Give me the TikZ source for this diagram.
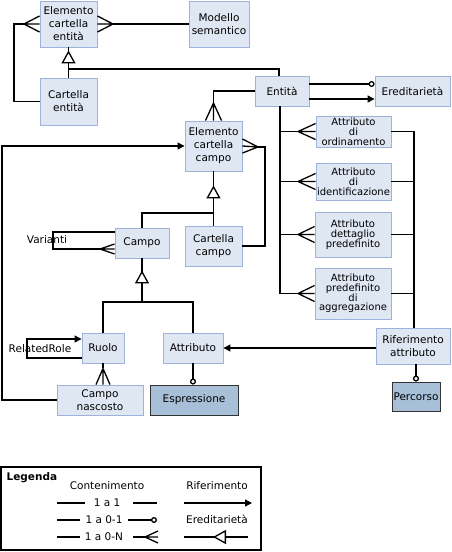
\documentclass[tikz,border=0pt]{standalone}
\usepackage{fontspec}
\setmainfont{DejaVu Sans}
\usepackage{xcolor}
\usepackage{tikz}
\usetikzlibrary{arrows.meta}
\definecolor{boxfill}{HTML}{DFE7F3}
\definecolor{boxline}{HTML}{9DB3DB}
\definecolor{darkfill}{HTML}{A7C0D8}
\definecolor{darkline}{HTML}{333333}
\tikzset{
  box/.style={draw=boxline, fill=boxfill, align=center, inner sep=1pt, line width=0.9pt,
    font=\fontsize{10.5}{13}\selectfont},
  attrbox/.style={box, font=\fontsize{10}{9.8}\selectfont},
  darkbox/.style={draw=darkline, fill=darkfill, align=center, inner sep=1pt, line width=0.9pt,
    font=\fontsize{10.5}{13}\selectfont},
  inh/.style={-{Triangle[width=14pt,length=13pt,fill=white]}},
  refarr/.style={-{Triangle[width=7pt,length=7pt]}},
  zeroone/.style={-{Circle[length=6pt,fill=white]}},
  lbl/.style={font=\fontsize{10.5}{12}\selectfont, inner sep=0pt}
}
\begin{document}
\begin{tikzpicture}[x=1pt, y=-1pt, line width=1.3pt]
  \useasboundingbox (0,0) rectangle (452,552);

  % Entity folders
  \node[box, minimum width=57pt, minimum height=46pt] (ece) at (68.5,24) {Elemento\\cartella\\entità};
  \node[box, minimum width=60pt, minimum height=46pt] (ms) at (219,24) {Modello\\semantico};
  \node[box, minimum width=57pt, minimum height=47pt] (ce) at (68.5,101.5) {Cartella\\entità};
  \node[box, minimum width=54pt, minimum height=30pt] (ent) at (282,91) {Entità};
  \node[box, minimum width=75pt, minimum height=30pt] (ered) at (412.5,91) {Ereditarietà};

  % Field folders
  \node[box, minimum width=57pt, minimum height=50pt] (ecc) at (213.5,146) {Elemento\\cartella\\campo};
  \node[box, minimum width=57pt, minimum height=40pt] (cc) at (213.5,246) {Cartella\\campo};
  \node[box, minimum width=54pt, minimum height=30pt] (campo) at (142,243) {Campo};
  \node[box, minimum width=42pt, minimum height=30pt] (ruolo) at (103,348) {Ruolo};
  \node[box, minimum width=60pt, minimum height=30pt] (attr) at (193,348) {Attributo};
  \node[box, minimum width=86pt, minimum height=30pt] (cn) at (100,400) {Campo\\nascosto};
  \node[darkbox, minimum width=88pt, minimum height=30pt] (espr) at (194,400) {Espressione};

  % Attributes of the entity
  \node[attrbox, minimum width=75pt, minimum height=31pt] (aord) at (353.5,131.5) {Attributo\\di\\ordinamento};
  \node[attrbox, minimum width=75pt, minimum height=37pt] (aid) at (353.5,181.5) {Attributo\\di\\identificazione};
  \node[attrbox, minimum width=76pt, minimum height=45pt] (adp) at (353,234.5) {Attributo\\dettaglio\\predefinito};
  \node[attrbox, minimum width=76pt, minimum height=51pt] (apa) at (353,293.5) {Attributo\\predefinito\\di\\aggregazione};
  \node[box, minimum width=74pt, minimum height=36pt] (ra) at (413,346) {Riferimento\\attributo};
  \node[darkbox, minimum width=48pt, minimum height=29pt] (perc) at (416,396.5) {Percorso};

  % Elemento cartella entita
  \coordinate (ecl) at (24,24);
  \coordinate (ecr) at (113,24);
  \draw (ecl) -- ([yshift=8pt]ece.west) (ecl) -- (ece.west) (ecl) -- ([yshift=-8pt]ece.west);
  \draw (ecr) -- ([yshift=8pt]ece.east) (ecr) -- (ece.east) (ecr) -- ([yshift=-8pt]ece.east);
  \draw (ecr) -- (ms.west);
  \draw (ce.west) -- (14,101.5) |- (ecl);
  \coordinate (j1) at (68.5,69);
  \draw (ce.north) -- (j1) -- (ece.south);
  \draw[inh] (j1) -- ([yshift=-3pt]ece.south);
  \draw (j1) -| ([xshift=-3pt]ent.north);

  % Entita
  \draw[zeroone] ([yshift=7pt]ent.east) -- ([yshift=7pt]ered.west);
  \draw[refarr] ([yshift=-8pt]ent.east) -- ([yshift=-8pt]ered.west);
  \coordinate (ect) at (213.5,103);
  \draw (ent.west) -| (ect);
  \draw (ect) -- ([xshift=-8pt]ecc.north) (ect) -- (ecc.north) (ect) -- ([xshift=8pt]ecc.north);

  % Elemento cartella campo
  \coordinate (ecf) at (258,147);
  \draw (ecf) -- ([yshift=7pt]ecc.east) (ecf) -- (ecc.east) (ecf) -- ([yshift=-7pt]ecc.east);
  \draw (ecf) -- (265,147) |- (cc.east);
  \coordinate (j2) at (213.5,213);
  \draw (cc.north) -- (j2) -- (ecc.south);
  \draw[inh] (j2) -- ([yshift=-14pt]ecc.south);
  \draw (j2) -| (campo.north);

  % Campo
  \coordinate (cv) at (100,249);
  \draw ([yshift=11pt]campo.west) -- (53,232) |- (cv);
  \draw (cv) -- ([yshift=-1pt]campo.west) (cv) -- ([yshift=-6pt]campo.west) (cv) -- ([yshift=-11pt]campo.west);
  \node[lbl] (var) at (47,240) {Varianti};
  \coordinate (j3) at (142,302);
  \draw (j3) -- (campo.south);
  \draw[inh] (j3) -- ([yshift=-12pt]campo.south);
  \draw (ruolo.north) |- (j3) -| (attr.north);

  % Ruolo
  \draw[refarr] ([yshift=-10pt]ruolo.west) -- (27,358) |- ([yshift=9pt]ruolo.west);
  \node[lbl] (rr) at (40,349) {RelatedRole};
  \draw (ruolo.south) -- ++(0,5) coordinate (rt);
  \draw (rt) -- (rt |- cn.north) (rt) -- ([xshift=-7pt]rt |- cn.north) (rt) -- ([xshift=7pt]rt |- cn.north);
  \coordinate (lft) at (2,0);
  \draw[refarr] (cn.west) -- (cn.west -| lft) |- (ecc.west);

  % Attributo
  \draw[zeroone] (attr.south) -- (attr.south |- espr.north);
  \draw[refarr] (ra.west |- attr.east) -- (attr.east);

  % Attributi dell'entita
  \coordinate (ev) at ([xshift=-2pt]ent.south);
  \draw (ev) -- (ev |- apa.west);
  \draw (ev |- aord.west) -- ++(18,0) coordinate (ao);
  \draw (ao) -- ([yshift=8pt]aord.west) (ao) -- (aord.west) (ao) -- ([yshift=-8pt]aord.west);
  \draw (ev |- aid.west) -- ++(18,0) coordinate (ai);
  \draw (ai) -- ([yshift=8pt]aid.west) (ai) -- (aid.west) (ai) -- ([yshift=-8pt]aid.west);
  \draw (ev |- adp.west) -- ++(18,0) coordinate (ad);
  \draw (ad) -- ([yshift=8pt]adp.west) (ad) -- (adp.west) (ad) -- ([yshift=-8pt]adp.west);
  \draw (ev |- apa.west) -- ++(18,0) coordinate (ap);
  \draw (ap) -- ([yshift=8pt]apa.west) (ap) -- (apa.west) (ap) -- ([yshift=-8pt]apa.west);
  \draw (aord.east) -| ([xshift=1pt]ra.north);
  \draw (aid.east) -- (aid.east -| ra.north);
  \draw (adp.east) -- (adp.east -| ra.north);
  \draw (apa.east) -- (apa.east -| ra.north);
  \draw[zeroone] (perc.north |- ra.south) -- (perc.north);

  % Legenda
  \draw (1,467) rectangle (261,550);
  \node[lbl, anchor=west, font=\fontsize{10.5}{12}\bfseries] (leg) at (6,478) {Legenda};
  \node[lbl] (cont) at (107,486) {Contenimento};
  \node[lbl] (rif) at (217,486) {Riferimento};
  \node[lbl] (l1) at (107,503) {1 a 1};
  \draw (57,503) -- (85,503) (133,503) -- (157,503);
  \node[lbl] (l2) at (104,520) {1 a 0-1};
  \draw (57,520) -- (80,520);
  \draw[zeroone] (128,520) -- (157,520);
  \node[lbl] (l3) at (104,537) {1 a 0-N};
  \draw (57,537) -- (80,537) (133,537) -- (145,537);
  \draw (145,537) -- (158,531) (145,537) -- (158,537) (145,537) -- (158,543);
  \draw[refarr] (184,503) -- (252,503);
  \node[lbl] (ered2) at (217,519) {Ereditarietà};
  \draw (184,537) -- (248,537);
  \draw[inh] (248,537) -- (213,537);
\end{tikzpicture}
\end{document}
